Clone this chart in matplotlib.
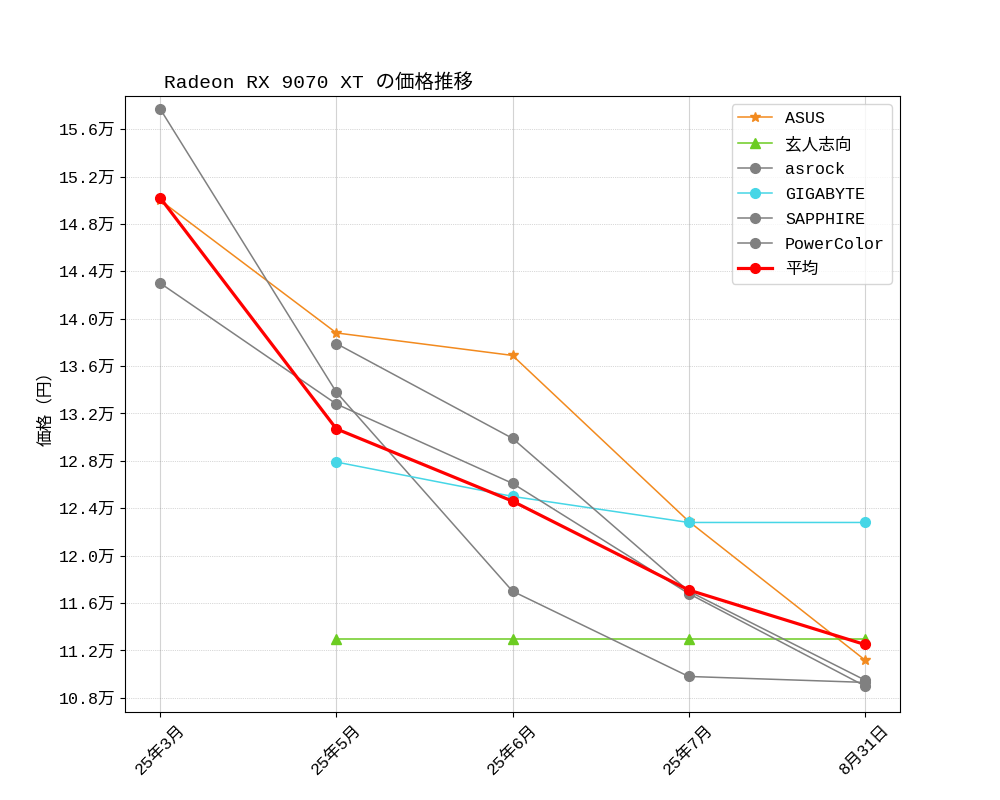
import numpy as np
import matplotlib
matplotlib.use("Agg")
import matplotlib.pyplot as plt
from matplotlib.ticker import FuncFormatter

plt.rcParams["font.family"] = ["Liberation Mono", "Noto Sans CJK JP", "DejaVu Sans"]

months = ["25年3月", "25年5月", "25年6月", "25年7月", "8月31日"]
nan = np.nan
asus = [150000, 138800, 136900, 122900, 111200]
kuroshikou = [nan, 113000, 113000, 113000, 113000]
asrock = [157700, 133800, 117000, 109800, 109300]
gigabyte = [nan, 127900, 125000, 122800, 122800]
sapphire = [143000, 132800, 126100, 116800, 109000]
powercolor = [nan, 137900, 129900, 117000, 109500]
average = [150200, 130700, 124600, 117100, 112500]
yticks = np.arange(108000, 157000, 4000)

series = [
    ("ASUS", asus, "#f28a1e", "*"),
    ("玄人志向", kuroshikou, "#6ccc22", "^"),
    ("asrock", asrock, "gray", "o"),
    ("GIGABYTE", gigabyte, "#46d6e6", "o"),
    ("SAPPHIRE", sapphire, "gray", "o"),
    ("PowerColor", powercolor, "gray", "o"),
]

fig = plt.figure(figsize=(10, 8), dpi=100)
ax = fig.add_axes([0.125, 0.11, 0.775, 0.77])
x = np.arange(len(months))
for name, vals, color, marker in series:
    ax.plot(x, vals, color=color, marker=marker, markersize=7, linewidth=1.1, label=name)
ax.plot(x, average, color="red", marker="o", markersize=7, linewidth=2.3, label="平均")

ax.set_xticks(x)
ax.set_xticklabels(months, rotation=45, fontsize=12)
ax.set_yticks(yticks)
ax.yaxis.set_major_formatter(FuncFormatter(lambda v, p: f"{v/10000:.1f}万"))
ax.tick_params(axis="y", labelsize=12)
ax.set_ylim(106800, 158800)
ax.grid(axis="x", color="lightgray", linewidth=0.8)
ax.grid(axis="y", color="gray", linewidth=0.5, linestyle=":", alpha=0.6)
ax.set_ylabel("価格（円）", fontsize=12)
ax.set_title("Radeon RX 9070 XT の価格推移", loc="left", fontsize=14, x=0.05)
ax.legend(loc="upper right", fontsize=12, labelspacing=0.6)
fig.savefig("out.png", dpi=100)
